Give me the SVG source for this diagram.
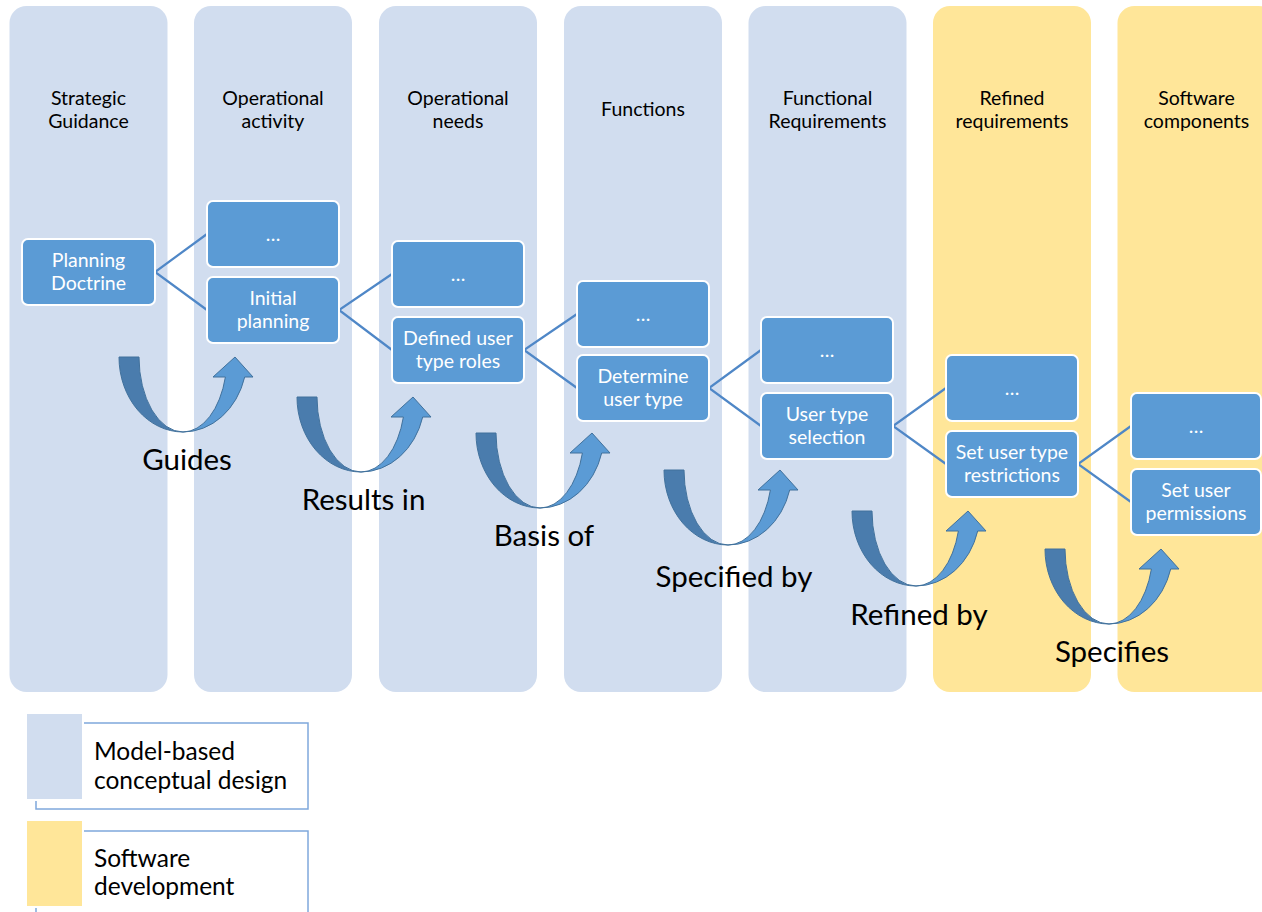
<svg xmlns="http://www.w3.org/2000/svg" xmlns:xlink="http://www.w3.org/1999/xlink" width="1262" height="912" viewBox="0 0 1262 912">
<style>
.colb{fill:#d1ddef}
.coly{fill:#ffe699}
.hdr{font-family:Lato,"Liberation Sans",sans-serif;font-size:19.5px;fill:#000;text-anchor:middle}
.node rect{fill:#5b9bd5;stroke:#fff;stroke-width:2}
.node text{font-family:Lato,"Liberation Sans",sans-serif;font-size:19.5px;fill:#fff;text-anchor:middle}
.con{stroke:#4f87c7;stroke-width:2.2;fill:none}
.lbl{font-family:Lato,"Liberation Sans",sans-serif;font-size:29.5px;fill:#000;text-anchor:middle}
.leg{font-family:Lato,"Liberation Sans",sans-serif;font-size:24.5px;fill:#000}
.legbox{fill:#fff;stroke:#7fa8dc;stroke-width:1.5}
</style>
<defs>
<g id="uarrow">
<path d="M0,0 L20,0 A44,75 0 0 0 64,75 A64,75 0 0 1 0,0 Z" fill="#4a7cad" stroke="#41719c" stroke-width="1"/>
<path d="M64,75 A64,75 0 0 0 125.7,20 L134,20 L116,0 L94,20 L106.4,20 A44,75 0 0 1 64,75 Z" fill="#5b9bd5" stroke="#41719c" stroke-width="1"/>
</g>
</defs>
<rect width="1262" height="912" fill="#fff"/>
<g id="columns">
<rect class="colb" x="9.5" y="6" width="158" height="686" rx="17"/>
<rect class="colb" x="194" y="6" width="158" height="686" rx="17"/>
<rect class="colb" x="379" y="6" width="158" height="686" rx="17"/>
<rect class="colb" x="564" y="6" width="158" height="686" rx="17"/>
<rect class="colb" x="748.5" y="6" width="158" height="686" rx="17"/>
<rect class="coly" x="933" y="6" width="158" height="686" rx="17"/>
<rect class="coly" x="1117.5" y="6" width="158" height="686" rx="17"/>
<text class="hdr" x="88.5" y="104.5">Strategic</text>
<text class="hdr" x="88.5" y="127.5">Guidance</text>
<text class="hdr" x="273" y="104.5">Operational</text>
<text class="hdr" x="273" y="127.5">activity</text>
<text class="hdr" x="458" y="104.5">Operational</text>
<text class="hdr" x="458" y="127.5">needs</text>
<text class="hdr" x="643" y="115.5">Functions</text>
<text class="hdr" x="827.5" y="104.5">Functional</text>
<text class="hdr" x="827.5" y="127.5">Requirements</text>
<text class="hdr" x="1012" y="104.5">Refined</text>
<text class="hdr" x="1012" y="127.5">requirements</text>
<text class="hdr" x="1196.5" y="104.5">Software</text>
<text class="hdr" x="1196.5" y="127.5">components</text>
</g>
<g id="legend">
<rect class="legbox" x="36" y="723" width="272" height="86"/>
<rect x="26" y="713" width="57" height="87" fill="#d1ddef" stroke="#fff" stroke-width="2"/>
<text class="leg" x="94" y="760">Model-based</text>
<text class="leg" x="94" y="788.5">conceptual design</text>
<rect class="legbox" x="36" y="831" width="272" height="90"/>
<rect x="26" y="820" width="57" height="87" fill="#ffe699" stroke="#fff" stroke-width="2"/>
<text class="leg" x="94" y="867">Software</text>
<text class="leg" x="94" y="895">development</text>
</g>
<g id="connectors">
<polyline class="con" points="207,234 155,272 207,310"/>
<polyline class="con" points="392,274 339,310 392,350"/>
<polyline class="con" points="577,314 524,350 577,388"/>
<polyline class="con" points="761,350 709,388 761,426"/>
<polyline class="con" points="946,388 893,426 946,464"/>
<polyline class="con" points="1131,426 1078,464 1131,502"/>
</g>
<g id="flow-arrows">
<use xlink:href="#uarrow" x="119" y="357"/>
<use xlink:href="#uarrow" x="297" y="397"/>
<use xlink:href="#uarrow" x="476" y="433"/>
<use xlink:href="#uarrow" x="664" y="470"/>
<use xlink:href="#uarrow" x="852" y="511"/>
<use xlink:href="#uarrow" x="1045" y="549"/>
<text class="lbl" x="187" y="470">Guides</text>
<text class="lbl" x="363.5" y="509.5">Results in</text>
<text class="lbl" x="544" y="546">Basis of</text>
<text class="lbl" x="734" y="587">Specified by</text>
<text class="lbl" x="919" y="625">Refined by</text>
<text class="lbl" x="1112" y="662">Specifies</text>
</g>
<g id="n-planning-doctrine" class="node"><rect x="22" y="239" width="133" height="66" rx="6"/><text x="88.5" y="267">Planning</text><text x="88.5" y="290">Doctrine</text></g>
<g id="n-opact-more" class="node"><rect x="207" y="201" width="132" height="66" rx="6"/><text x="273" y="241">…</text></g>
<g id="n-initial-planning" class="node"><rect x="207" y="277" width="132" height="66" rx="6"/><text x="273" y="305">Initial</text><text x="273" y="328">planning</text></g>
<g id="n-opneeds-more" class="node"><rect x="392" y="241" width="132" height="66" rx="6"/><text x="458" y="281">…</text></g>
<g id="n-defined-roles" class="node"><rect x="392" y="317" width="132" height="66" rx="6"/><text x="458" y="345">Defined user</text><text x="458" y="368">type roles</text></g>
<g id="n-functions-more" class="node"><rect x="577" y="281" width="132" height="66" rx="6"/><text x="643" y="321">…</text></g>
<g id="n-determine-type" class="node"><rect x="577" y="355" width="132" height="66" rx="6"/><text x="643" y="383">Determine</text><text x="643" y="406">user type</text></g>
<g id="n-funcreq-more" class="node"><rect x="761" y="317" width="132" height="66" rx="6"/><text x="827" y="357">…</text></g>
<g id="n-type-selection" class="node"><rect x="761" y="393" width="132" height="66" rx="6"/><text x="827" y="421">User type</text><text x="827" y="444">selection</text></g>
<g id="n-refined-more" class="node"><rect x="946" y="355" width="132" height="66" rx="6"/><text x="1012" y="395">…</text></g>
<g id="n-type-restrictions" class="node"><rect x="946" y="431" width="132" height="66" rx="6"/><text x="1012" y="459">Set user type</text><text x="1012" y="482">restrictions</text></g>
<g id="n-sw-more" class="node"><rect x="1131" y="393" width="130" height="66" rx="6"/><text x="1196" y="433">…</text></g>
<g id="n-user-permissions" class="node"><rect x="1131" y="469" width="130" height="66" rx="6"/><text x="1196" y="497">Set user</text><text x="1196" y="520">permissions</text></g>
</svg>
